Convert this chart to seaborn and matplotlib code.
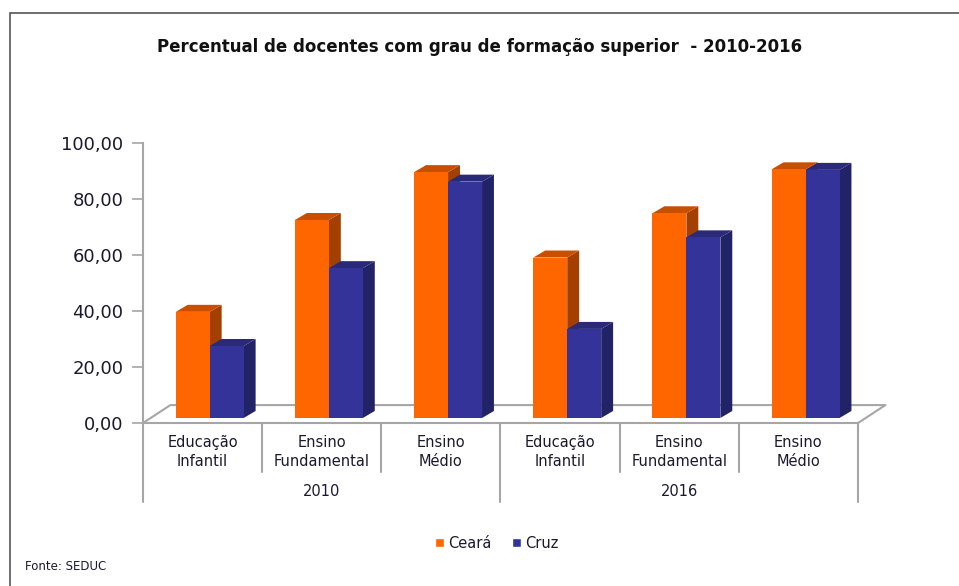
import matplotlib
matplotlib.use("Agg")
import matplotlib.pyplot as plt
import matplotlib.transforms as mtransforms
from matplotlib.patches import Polygon, Rectangle, Patch
from matplotlib.lines import Line2D
import seaborn as sns
import pandas as pd

# dados
anos = ["2010", "2016"]
niveis = ["Educação\nInfantil", "Ensino\nFundamental", "Ensino\nMédio"]
series = ["Ceará", "Cruz"]
ceara = [37.9, 70.7, 87.8, 57.3, 73.1, 88.8]
cruz = [25.7, 53.5, 84.4, 31.8, 64.5, 88.6]
yticks = [0, 20, 40, 60, 80, 100]

categorias = [f"{a}|{n}" for a in anos for n in niveis]
df = pd.DataFrame({
    "cat": categorias * 2,
    "serie": [series[0]] * len(ceara) + [series[1]] * len(cruz),
    "valor": ceara + cruz,
})

laranja = "#ff6600"
azul = "#333399"
lado = {0: "#a33f00", 1: "#222266"}
topo = {0: "#c94f00", 1: "#2a2a78"}
cinza = "#a6a6a6"
texto = "#1a1a2e"

sns.set_style("white")
plt.rcParams["font.family"] = ["DejaVu Sans"]

fig = plt.figure(figsize=(9.59, 5.86), dpi=100)
ax = fig.add_axes([143 / 959, 163 / 586, 715 / 959, 280 / 586])

sns.barplot(data=df, x="cat", y="valor", hue="serie", palette=[laranja, azul],
            width=0.57, saturation=1, legend=False, ax=ax, errorbar=None)

# efeito 3D
dx, dy = 0.1, 2.5
base = 1.8
for h, cont in enumerate(ax.containers):
    for i, bar in enumerate(cont):
        x = bar.get_x() + 0.06
        w = bar.get_width()
        v = bar.get_height()
        bar.set_x(x)
        bar.set_y(base)
        bar.set_linewidth(0)
        z = 3 + i * 0.1 + h * 0.05
        bar.set_zorder(z)
        y0, y1 = base, base + v
        ax.add_patch(Polygon([(x + w, y0), (x + w + dx, y0 + dy), (x + w + dx, y1 + dy), (x + w, y1)],
                             closed=True, facecolor=lado[h], edgecolor="none", zorder=z - 0.01))
        ax.add_patch(Polygon([(x, y1), (x + dx, y1 + dy), (x + w + dx, y1 + dy), (x + w, y1)],
                             closed=True, facecolor=topo[h], edgecolor="none", zorder=z - 0.01))

n = len(categorias)
# piso
fx, fy = 0.23, 6.4
ax.add_line(Line2D([-0.5, -0.5 + fx, n - 0.5 + fx, n - 0.5], [0, fy, fy, 0],
                   color=cinza, lw=1.5, zorder=1, clip_on=False))

ax.set_xlim(-0.5, n - 0.5)
ax.set_ylim(0, 100)
ax.set_yticks(yticks)
ax.set_yticklabels([f"{t:.2f}".replace(".", ",") for t in yticks], fontsize=13, color=texto)
ax.tick_params(axis="y", length=8, width=1.2, color=cinza, pad=6, left=True)
ax.set_xticks([])
ax.set_xlabel("")
ax.set_ylabel("")
for s in ["top", "right"]:
    ax.spines[s].set_visible(False)
for s in ["left", "bottom"]:
    ax.spines[s].set_color(cinza)
    ax.spines[s].set_linewidth(1.5)

# rotulos de categorias agrupados
trans = mtransforms.blended_transform_factory(ax.transData, ax.transAxes)
for i, c in enumerate(categorias):
    ax.text(i, -0.104, c.split("|")[1], transform=trans, ha="center", va="center",
            fontsize=10.5, color=texto, linespacing=1.3)
for k, a in enumerate(anos):
    ax.text(k * 3 + 1, -0.243, a, transform=trans, ha="center", va="center",
            fontsize=10.5, color=texto)
for xs in range(n + 1):
    longa = xs % 3 == 0
    ax.add_line(Line2D([xs - 0.5, xs - 0.5], [0, -0.282 if longa else -0.175],
                       transform=trans, color=cinza, lw=1.5, clip_on=False))

fig.text(0.5, 0.92, "Percentual de docentes com grau de formação superior  - 2010-2016",
         ha="center", va="center", fontsize=12, fontweight="bold", color="#111111")

handles = [Patch(facecolor=laranja, label=series[0]), Patch(facecolor=azul, label=series[1])]
fig.legend(handles=handles, loc="center", bbox_to_anchor=(0.518, 0.073), ncol=2,
           frameon=False, fontsize=10.5, handlelength=0.6, handleheight=0.6,
           handletextpad=0.3, columnspacing=1.4, labelcolor=texto)

fig.text(25 / 959, 1 - 566 / 586, "Fonte: SEDUC", ha="left", va="center",
         fontsize=8.5, color=texto)

fig.add_artist(Rectangle((10 / 959, -0.05), 1.2, 1 - 12.5 / 586 + 0.05,
                         transform=fig.transFigure, fill=False,
                         edgecolor="#555555", lw=1.2))

fig.savefig("out.png", dpi=100)
